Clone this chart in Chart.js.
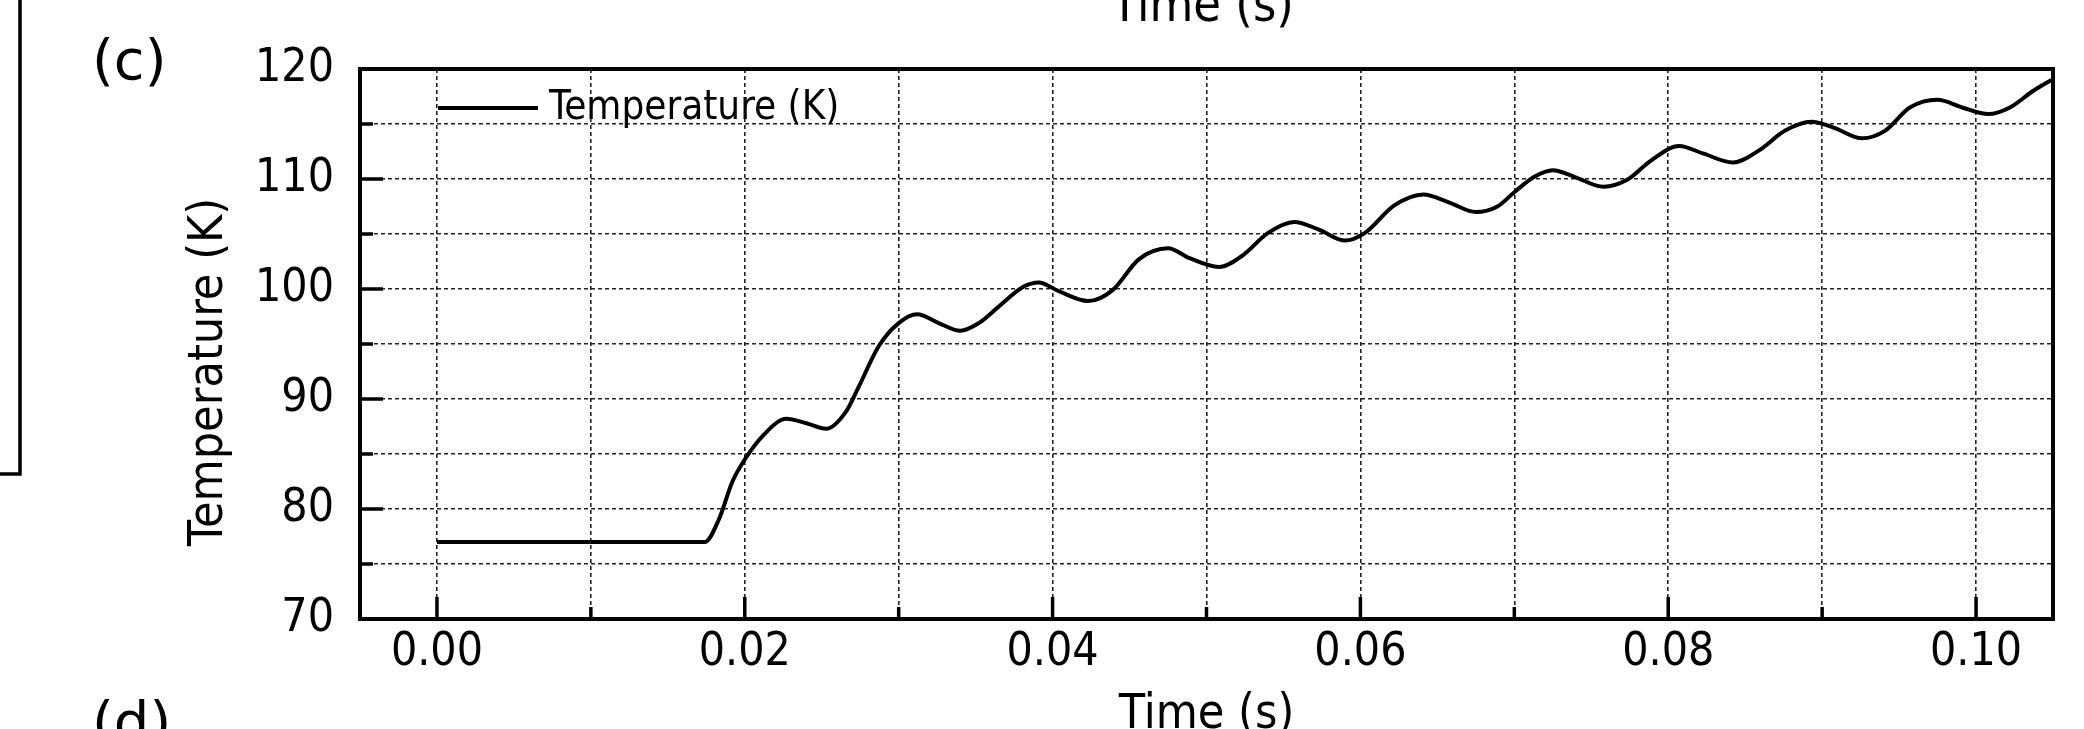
<!DOCTYPE html>
<html>
<head>
<meta charset="utf-8">
<style>
  html, body { margin: 0; padding: 0; background: #fff; }
  #wrap { width: 2084px; height: 729px; }
</style>
<script src="https://cdn.jsdelivr.net/npm/chart.js@4.4.1/dist/chart.umd.min.js"></script>
</head>
<body>
<div id="wrap"><canvas id="tempChart" width="2084" height="729"></canvas></div>
<script>
// values (panel c)
const timeS = [
  0.0000, 0.0174, 0.0183, 0.0192, 0.0200, 0.0212, 0.0227, 0.0240, 0.0253, 0.0266,
  0.0274, 0.0287, 0.0300, 0.0312, 0.0326, 0.0340, 0.0352, 0.0365, 0.0381, 0.0391,
  0.0404, 0.0423, 0.0439, 0.0456, 0.0475, 0.0489, 0.0508, 0.0523, 0.0540, 0.0557,
  0.0573, 0.0590, 0.0603, 0.0622, 0.0641, 0.0657, 0.0675, 0.0689, 0.0700, 0.0713,
  0.0725, 0.0739, 0.0758, 0.0773, 0.0789, 0.0807, 0.0823, 0.0842, 0.0859, 0.0876,
  0.0893, 0.0907, 0.0926, 0.0941, 0.0957, 0.0975, 0.0991, 0.1008, 0.1022, 0.1037,
  0.1049
];
const tempK = [
  77.0, 77.0, 79.0, 82.5, 84.5, 86.7, 88.2, 87.8, 87.3, 88.9,
  91.1, 94.8, 96.9, 97.7, 96.9, 96.2, 96.9, 98.4, 100.2, 100.6,
  99.8, 98.9, 99.9, 102.7, 103.7, 102.8, 102.0, 103.0, 105.1, 106.1,
  105.4, 104.4, 105.1, 107.6, 108.6, 107.9, 107.0, 107.5, 108.8, 110.2,
  110.8, 110.2, 109.3, 109.9, 111.7, 113.0, 112.3, 111.5, 112.6, 114.4,
  115.2, 114.7, 113.7, 114.4, 116.5, 117.2, 116.5, 115.9, 116.5, 118.0,
  119.0
];

const xTicks = [0.00, 0.01, 0.02, 0.03, 0.04, 0.05, 0.06, 0.07, 0.08, 0.09, 0.10];
const xLabelled = [0.00, 0.02, 0.04, 0.06, 0.08, 0.10];
const yTicks = [70, 75, 80, 85, 90, 95, 100, 105, 110, 115, 120];
const yLabelled = [70, 80, 90, 100, 110, 120];

const seriesLabel = "Temperature (K)";
const xTitle = "Time (s)";
const yTitle = "Temperature (K)";
const panelLabel = "(c)";
const nextPanelLabel = "(d)";

const FONT = '"DejaVu Sans Condensed", "DejaVu Sans", sans-serif';

const isLabelled = (list, v) => list.some((t) => Math.abs(t - v) < 1e-9);

// frame, inward ticks, legend and titles
const decorations = {
  id: "decorations",
  afterDraw(chart) {
    const { ctx, chartArea: a, scales } = chart;
    ctx.save();
    ctx.strokeStyle = "#000";
    ctx.lineWidth = 3.5;

    // inward tick marks, bottom and left only
    ctx.beginPath();
    scales.x.ticks.forEach((t) => {
      const px = scales.x.getPixelForValue(t.value);
      const len = isLabelled(xLabelled, t.value) ? 22 : 12;
      ctx.moveTo(px, a.bottom);
      ctx.lineTo(px, a.bottom - len);
    });
    scales.y.ticks.forEach((t) => {
      const py = scales.y.getPixelForValue(t.value);
      const len = isLabelled(yLabelled, t.value) ? 23 : 13;
      ctx.moveTo(a.left, py);
      ctx.lineTo(a.left + len, py);
    });
    ctx.stroke();

    ctx.lineWidth = 4;
    ctx.strokeRect(a.left, a.top, a.right - a.left, a.bottom - a.top);

    // legend
    const lx = a.left + 78, ly = a.top + 39;
    ctx.lineWidth = 4;
    ctx.beginPath();
    ctx.moveTo(lx, ly);
    ctx.lineTo(lx + 100, ly);
    ctx.stroke();
    ctx.fillStyle = "#000";
    ctx.font = "40px " + FONT;
    ctx.textBaseline = "middle";
    ctx.textAlign = "left";
    ctx.fillText(seriesLabel, lx + 111, ly + 1);

    // axis titles
    ctx.font = "48px " + FONT;
    ctx.textAlign = "center";
    ctx.textBaseline = "alphabetic";
    ctx.fillText(xTitle, (a.left + a.right) / 2, 728);
    // cut-off title of the panel above
    ctx.font = "50px " + FONT;
    ctx.fillText(xTitle, (a.left + a.right) / 2 - 4, 21);

    ctx.save();
    ctx.translate(a.left - 150, (a.top + a.bottom) / 2 + 28);
    ctx.rotate(-Math.PI / 2);
    ctx.font = "48px " + FONT;
    ctx.textBaseline = "middle";
    ctx.fillText(yTitle, 0, 0);
    ctx.restore();

    // panel letters
    ctx.font = '56px "DejaVu Sans", sans-serif';
    ctx.textAlign = "left";
    ctx.fillText(panelLabel, 92, 79);
    ctx.fillText(nextPanelLabel, 92, 741);

    // edge of the neighbouring panel on the left
    ctx.lineWidth = 3.5;
    ctx.beginPath();
    ctx.moveTo(20, 0);
    ctx.lineTo(20, 474);
    ctx.lineTo(0, 474);
    ctx.stroke();

    ctx.restore();
  }
};

new Chart(document.getElementById("tempChart"), {
  type: "line",
  data: {
    datasets: [{
      label: seriesLabel,
      data: timeS.map((t, i) => ({ x: t, y: tempK[i] })),
      borderColor: "#000",
      borderWidth: 4,
      pointRadius: 0,
      cubicInterpolationMode: "monotone",
      fill: false
    }]
  },
  options: {
    responsive: false,
    animation: false,
    layout: { padding: { left: 0, top: 69, right: 31, bottom: 0 } },
    plugins: {
      legend: { display: false },
      tooltip: { enabled: false }
    },
    scales: {
      x: {
        type: "linear",
        min: -0.005,
        max: 0.105,
        afterBuildTicks: (s) => { s.ticks = xTicks.map((v) => ({ value: v })); },
        afterFit: (s) => { s.height = 110; },
        grid: { color: "#222", lineWidth: 1.6, drawTicks: false },
        border: { display: false, dash: [4, 3] },
        ticks: {
          padding: 6,
          color: "#000",
          font: { family: FONT, size: 46 },
          maxRotation: 0,
          autoSkip: false,
          callback: (v) => (isLabelled(xLabelled, v) ? v.toFixed(2) : "")
        }
      },
      y: {
        min: 70,
        max: 120,
        afterBuildTicks: (s) => { s.ticks = yTicks.map((v) => ({ value: v })); },
        afterFit: (s) => { s.width = 360; },
        grid: { color: "#222", lineWidth: 1.6, drawTicks: false },
        border: { display: false, dash: [4, 3] },
        ticks: {
          padding: 26,
          color: "#000",
          font: { family: FONT, size: 46 },
          autoSkip: false,
          callback: (v) => (isLabelled(yLabelled, v) ? String(v) : "")
        }
      }
    }
  },
  plugins: [decorations]
});
</script>
</body>
</html>
